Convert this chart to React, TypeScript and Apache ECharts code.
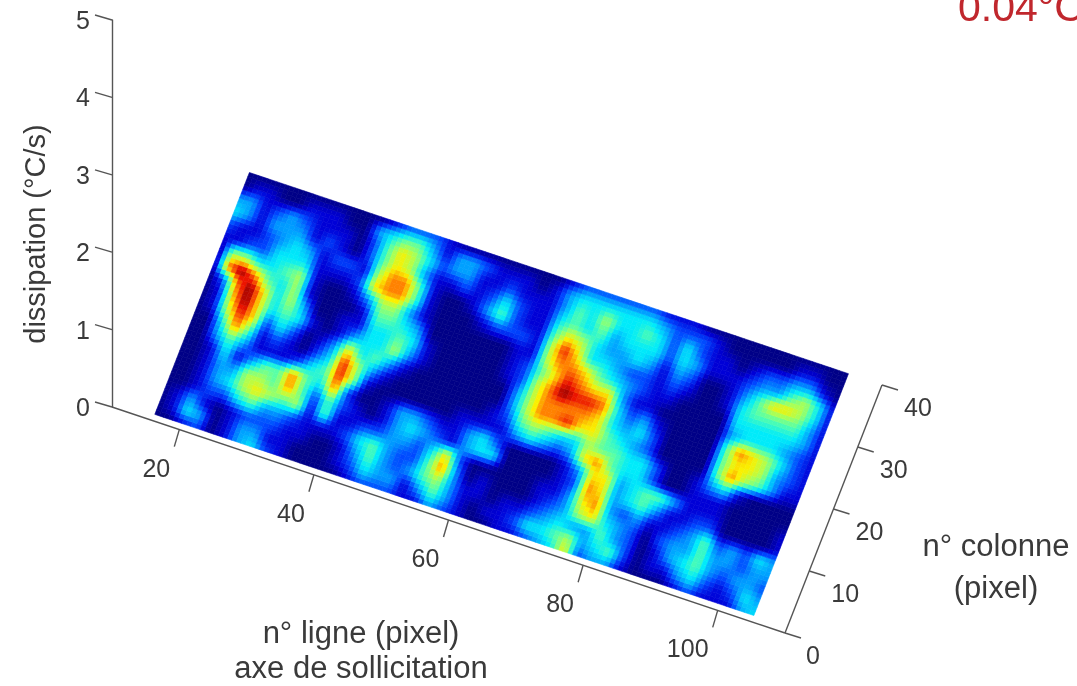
import React, { useEffect, useRef } from "react";
import * as echarts from "echarts";

const FONT = "'Liberation Sans', Arial, sans-serif";
const INK = "#3a3a3a";

// Heat level per cell, top row = highest column number, left = lowest line number (0 navy .. 10 dark red)
const row19 = [0,0,0,0,0,0,0,0,0,0,0,1,2,2,2,1,0,0,0,0,0,0,0,0,1,2,2,2,2,2,2,1,1,1,0,0,0,0,0,0,0,0,0,0,0];
const row18 = [0,1,1,0,0,1,1,1,0,0,3,4,5,5,3,1,3,3,2,1,1,1,0,1,3,4,4,4,4,4,4,3,2,2,2,1,0,0,0,0,0,1,1,0,0];
const row17 = [3,3,1,2,3,2,1,1,1,0,2,5,7,6,4,2,3,3,1,1,2,1,1,1,3,5,4,6,4,4,5,4,2,4,2,1,1,0,1,2,2,3,3,1,0];
const row16 = [4,3,1,3,3,3,1,2,1,0,2,5,7,6,3,1,1,2,1,2,4,2,1,1,4,5,4,5,3,4,4,4,2,4,3,1,1,1,2,3,3,5,6,4,1];
const row15 = [2,1,1,2,3,4,3,1,2,2,1,6,8,8,5,1,0,0,1,3,5,2,1,1,5,7,6,4,3,3,4,3,1,3,2,0,0,1,3,5,7,7,6,4,1];
const row14 = [1,1,2,2,4,4,4,1,1,1,2,7,8,8,5,1,0,0,0,1,2,2,2,1,6,9,7,4,4,3,2,2,1,2,1,0,0,1,4,5,5,5,5,3,1];
const row13 = [0,6,6,4,4,5,6,1,0,0,1,3,6,6,3,1,0,0,0,0,0,0,1,1,6,8,8,7,5,4,3,2,1,1,0,0,0,0,4,4,4,4,4,3,1];
const row12 = [0,8,10,8,5,4,6,1,0,0,0,1,5,5,4,3,0,0,0,0,0,0,1,2,5,7,9,8,7,7,3,1,1,0,0,0,0,0,3,4,4,4,3,2,1];
const row11 = [0,2,8,10,7,4,6,3,0,0,1,1,4,4,5,4,1,0,0,0,0,0,1,2,6,8,10,9,9,8,4,2,3,1,0,0,0,0,5,8,7,6,4,2,1];
const row10 = [0,1,7,10,7,4,5,4,1,0,1,3,4,4,6,3,1,0,0,0,0,0,0,3,6,8,8,8,8,7,4,3,4,2,0,0,0,0,5,7,7,6,3,2,1];
const row09 = [0,1,6,9,7,2,4,2,0,1,3,7,4,5,3,1,0,0,0,0,0,0,0,3,6,8,8,9,7,7,5,4,3,2,0,0,0,0,5,8,6,5,3,1,1];
const row08 = [0,0,4,8,5,1,2,1,0,2,4,9,6,3,1,0,0,0,0,0,0,0,1,2,5,6,5,4,4,6,5,5,4,4,2,0,0,1,3,4,1,0,0,0,0];
const row07 = [0,0,3,5,3,1,1,1,2,4,5,9,6,1,0,0,0,0,0,0,1,1,1,1,3,4,3,2,3,7,8,5,4,4,2,0,0,1,1,1,0,0,0,0,0];
const row06 = [0,0,1,4,1,3,5,5,8,5,4,8,2,0,0,1,3,3,2,1,1,3,4,2,0,0,0,0,1,3,7,7,3,4,5,5,3,1,1,1,0,0,0,0,1];
const row05 = [0,0,1,3,3,6,6,5,8,5,2,5,2,1,0,1,3,4,3,2,1,3,4,4,0,0,0,0,1,2,8,7,3,4,5,3,1,1,2,2,0,0,0,0,1];
const row04 = [0,0,1,3,4,6,7,6,5,6,1,5,1,1,2,2,3,3,2,4,7,2,0,0,0,0,0,1,1,3,7,8,3,2,3,1,1,2,3,5,2,3,2,4,3];
const row03 = [0,0,1,2,2,4,5,3,3,2,1,1,1,2,4,5,3,2,2,5,8,3,0,1,0,0,0,1,2,3,6,7,4,3,2,0,2,3,3,5,3,3,2,3,3];
const row02 = [0,1,3,1,0,1,2,2,2,1,1,0,0,1,3,5,3,2,3,5,6,3,1,1,0,1,1,2,3,4,3,3,5,3,2,0,1,3,4,5,3,2,3,3,2];
const row01 = [0,1,4,3,0,1,3,3,1,1,0,0,0,1,2,4,3,3,1,3,5,3,1,0,1,1,2,4,4,5,6,3,4,5,2,0,1,1,3,4,2,1,2,4,3];
const row00 = [0,0,1,2,0,1,3,4,2,1,0,0,0,0,1,2,2,2,1,1,3,2,1,0,0,1,1,2,3,4,7,2,3,3,1,0,0,0,1,2,1,1,1,3,4];

const rows = [row00,row01,row02,row03,row04,row05,row06,row07,row08,row09,row10,row11,row12,row13,row14,row15,row16,row17,row18,row19];

const lineTicks = [20, 40, 60, 80, 100];
const colTicks = [0, 10, 20, 30, 40];
const zTicks = [0, 1, 2, 3, 4, 5];

const LINE_FIRST = 16;
const LINE_STEP = 2.023;
const COL_FIRST = 1;
const COL_STEP = 2.053;

// jet colour map
const jet: number[][] = [
  [0, 0, 135],[0, 0, 215],[0, 70, 255],[0, 160, 255],[0, 235, 250],
  [85, 255, 170],[170, 255, 85],[250, 240, 0],[255, 130, 0],[235, 20, 0],[140, 0, 0],
];
function jetColor(v: number) {
  const t = Math.max(0, Math.min(10, v));
  const a = Math.min(9, Math.floor(t));
  const f = t - a;
  const c = jet[a].map((x, k) => Math.round(x + (jet[a + 1][k] - x) * f));
  return `rgb(${c[0]},${c[1]},${c[2]})`;
}

// The floor plane: the hidden cartesian grid is sheared into the 3D view of the original.
const GRID = { left: 112, top: 159, width: 673, height: 248 };
const SHEAR_X = 97 / 248;
const SHEAR_Y = 226 / 673;
function shear(p: number[]) {
  const u = p[0] - GRID.left;
  const v = GRID.top + GRID.height - p[1];
  return [GRID.left + u + v * SHEAR_X, GRID.top + GRID.height + u * SHEAR_Y - v];
}

const cells: number[][] = [];
rows.slice(0, -1).forEach((r, j) => {
  r.slice(0, -1).forEach((_, i) => cells.push([LINE_FIRST + i * LINE_STEP, COL_FIRST + j * COL_STEP, i, j]));
});

const SUB = 3;
function renderCell(params: any, api: any) {
  const line = api.value(0), col = api.value(1), i = api.value(2), j = api.value(3);
  const v00 = rows[j][i], v10 = rows[j][i + 1], v01 = rows[j + 1][i], v11 = rows[j + 1][i + 1];
  const children: any[] = [];
  const pt = (a: number, b: number) => shear(api.coord([line + a * LINE_STEP, col + b * COL_STEP]));
  for (let a = 0; a < SUB; a++) {
    for (let b = 0; b < SUB; b++) {
      const ca = (a + 0.5) / SUB, cb = (b + 0.5) / SUB;
      const val = v00 * (1 - ca) * (1 - cb) + v10 * ca * (1 - cb) + v01 * (1 - ca) * cb + v11 * ca * cb;
      const fill = jetColor(val);
      children.push({
        type: "polygon",
        shape: { points: [pt(a / SUB, b / SUB), pt((a + 1) / SUB, b / SUB), pt((a + 1) / SUB, (b + 1) / SUB), pt(a / SUB, (b + 1) / SUB)] },
        style: { fill, stroke: fill, lineWidth: 0.6 },
      });
    }
  }
  return { type: "group", children };
}

function segment(a: number[], b: number[]) {
  return { type: "line", shape: { x1: a[0], y1: a[1], x2: b[0], y2: b[1] }, style: { stroke: "#555", lineWidth: 1.4 } };
}
function label(text: string, x: number, y: number) {
  return { type: "text", style: { x, y, text, fontSize: 25, fontFamily: FONT, fill: INK, align: "center", verticalAlign: "middle" } };
}

function renderLineTick(params: any, api: any) {
  const p = shear(api.coord([api.value(0), 0]));
  return {
    type: "group",
    children: [segment(p, [p[0] - 5, p[1] + 17]), label(String(api.value(0)), p[0] - 23 - (api.value(0) === 100 ? 7 : 0), p[1] + 38)],
  };
}
function renderColTick(params: any, api: any) {
  const v = api.value(1);
  const p = shear(api.coord([110, v]));
  return {
    type: "group",
    children: [segment(p, [p[0] + 16, p[1] + 5]), label(String(v), p[0] + (v === 0 ? 28 : 36), p[1] + 22)],
  };
}
function renderZTick(params: any, api: any) {
  const p = api.coord([0, api.value(1)]);
  return segment(p, [p[0] - 17, p[1] - 5]);
}
function renderFloor(params: any, api: any) {
  const o = shear(api.coord([10, 0]));
  const a = shear(api.coord([110, 0]));
  const b = shear(api.coord([110, 40]));
  return { type: "group", children: [segment(o, a), segment(a, b)] };
}

function titleText(text: string, x: number, y: number, size: number, rotation = 0, fill = INK) {
  return {
    type: "text", x, y, rotation,
    style: { text, fontSize: size, fontFamily: FONT, fill, align: "center", verticalAlign: "middle" },
  };
}

export default function App() {
  const ref = useRef<HTMLDivElement>(null);
  useEffect(() => {
    const chart = echarts.init(ref.current!, null, { renderer: "svg" });
    chart.setOption({
      animation: false,
      backgroundColor: "#fff",
      grid: [
        { ...GRID },
        { left: 112, top: 20, width: 1, height: 387 },
      ],
      xAxis: [
        { type: "value", min: 10, max: 110, show: false, gridIndex: 0 },
        { type: "value", min: 0, max: 1, show: false, gridIndex: 1 },
      ],
      yAxis: [
        { type: "value", min: 0, max: 40, show: false, gridIndex: 0 },
        {
          type: "value", min: 0, max: 5, interval: 1, gridIndex: 1, position: "left",
          axisLine: { show: true, lineStyle: { color: "#555", width: 1.4 } },
          axisTick: { show: false },
          splitLine: { show: false },
          axisLabel: { margin: 22, fontSize: 25, fontFamily: FONT, color: INK },
        },
      ],
      series: [
        { type: "custom", name: "floor", renderItem: renderFloor, data: [[0]], xAxisIndex: 0, yAxisIndex: 0, clip: false, silent: true },
        { type: "custom", name: "lineTicks", renderItem: renderLineTick, data: lineTicks.map((v) => [v, 0]), xAxisIndex: 0, yAxisIndex: 0, clip: false, silent: true },
        { type: "custom", name: "colTicks", renderItem: renderColTick, data: colTicks.map((v) => [110, v]), xAxisIndex: 0, yAxisIndex: 0, clip: false, silent: true },
        { type: "custom", name: "zTicks", renderItem: renderZTick, data: zTicks.map((v) => [0, v]), xAxisIndex: 1, yAxisIndex: 1, clip: false, silent: true },
        { type: "custom", name: "surface", renderItem: renderCell, data: cells, xAxisIndex: 0, yAxisIndex: 0, clip: false, silent: true, encode: { x: 0, y: 1 } },
      ],
      graphic: [
        titleText("dissipation (°C/s)", 35, 234, 29, Math.PI / 2),
        titleText("n° ligne (pixel)", 361, 632, 31),
        titleText("axe de sollicitation", 361, 667, 31),
        titleText("n° colonne", 996, 545, 31),
        titleText("(pixel)", 996, 587, 31),
        { type: "text", x: 958, y: 7, style: { text: "0.04°C", fontSize: 41, fontFamily: FONT, fill: "#c0272d", align: "left", verticalAlign: "middle" } },
      ],
    });
    return () => chart.dispose();
  }, []);
  return <div ref={ref} style={{ position: "fixed", left: 0, top: 0, width: 1077, height: 686, filter: "blur(0.7px)" }} />;
}
